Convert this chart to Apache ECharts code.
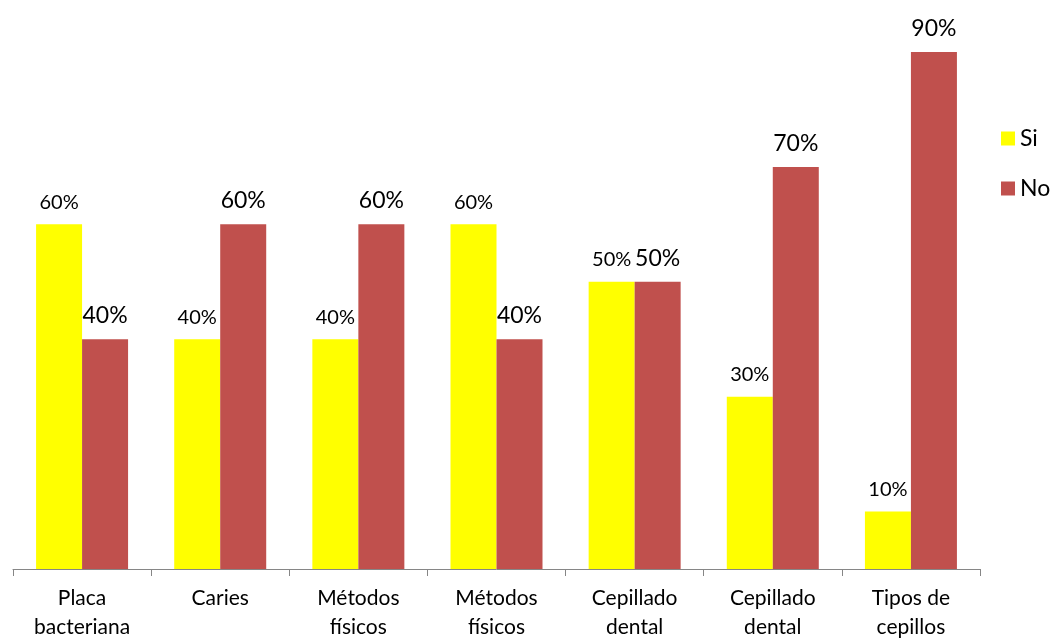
<!DOCTYPE html>
<html>
<head>
<meta charset="utf-8">
<script src="https://cdn.jsdelivr.net/npm/echarts@6/dist/echarts.min.js"></script>
<style>
  html, body { margin: 0; padding: 0; background: #fff; }
  #chart { width: 1056px; height: 638px; }
</style>
</head>
<body>
<div id="chart"></div>
<script>
const CATEGORIES = [
  'Placa\nbacteriana',
  'Caries',
  'Métodos\nfísicos',
  'Métodos\nfísicos',
  'Cepillado\ndental',
  'Cepillado\ndental',
  'Tipos de\ncepillos',
]
const SI = [60, 40, 40, 60, 50, 30, 10]
const NO = [40, 60, 60, 40, 50, 70, 90]

const FONT = 'Lato, "Open Sans", sans-serif'

const chart = echarts.init(document.getElementById('chart'), null, { renderer: 'canvas' })

chart.setOption({
  animation: false,
  backgroundColor: '#ffffff',
  textStyle: { fontFamily: FONT },
  // outerBoundsMode none: 标签可溢出, 保持轴线在 y=569
  grid: { left: 13, right: 76, top: 52, bottom: 69, outerBoundsMode: 'none', containLabel: false },
  legend: {
    orient: 'vertical',
    left: 996,
    top: 122,
    itemWidth: 14,
    itemHeight: 14,
    itemGap: 27,
    icon: 'rect',
    textStyle: { fontFamily: FONT, fontSize: 23, color: '#000' },
    data: ['Si', 'No'],
  },
  xAxis: {
    type: 'category',
    data: CATEGORIES,
    axisLine: { lineStyle: { color: '#868686', width: 1 } },
    axisTick: { show: true, length: 7, lineStyle: { color: '#868686' } },
    axisLabel: {
      interval: 0,
      color: '#000',
      fontSize: 21,
      lineHeight: 29,
      margin: 15,
      fontFamily: FONT,
    },
  },
  yAxis: {
    type: 'value',
    min: 0,
    max: 90,
    show: false,
    splitLine: { show: false },
  },
  series: [
    {
      name: 'Si',
      type: 'bar',
      data: SI,
      barWidth: 46,
      barGap: '0%',
      itemStyle: { color: '#FFFF00' },
      label: {
        show: true,
        position: 'top',
        distance: 12,
        formatter: '{c}%',
        fontSize: 20,
        color: '#000',
        fontFamily: FONT,
      },
    },
    {
      name: 'No',
      type: 'bar',
      data: NO,
      barWidth: 46,
      barGap: '0%',
      itemStyle: { color: '#C0504D' },
      label: {
        show: true,
        position: 'top',
        distance: 12,
        formatter: '{c}%',
        fontSize: 23,
        color: '#000',
        fontFamily: FONT,
      },
    },
  ],
})
</script>
</body>
</html>
